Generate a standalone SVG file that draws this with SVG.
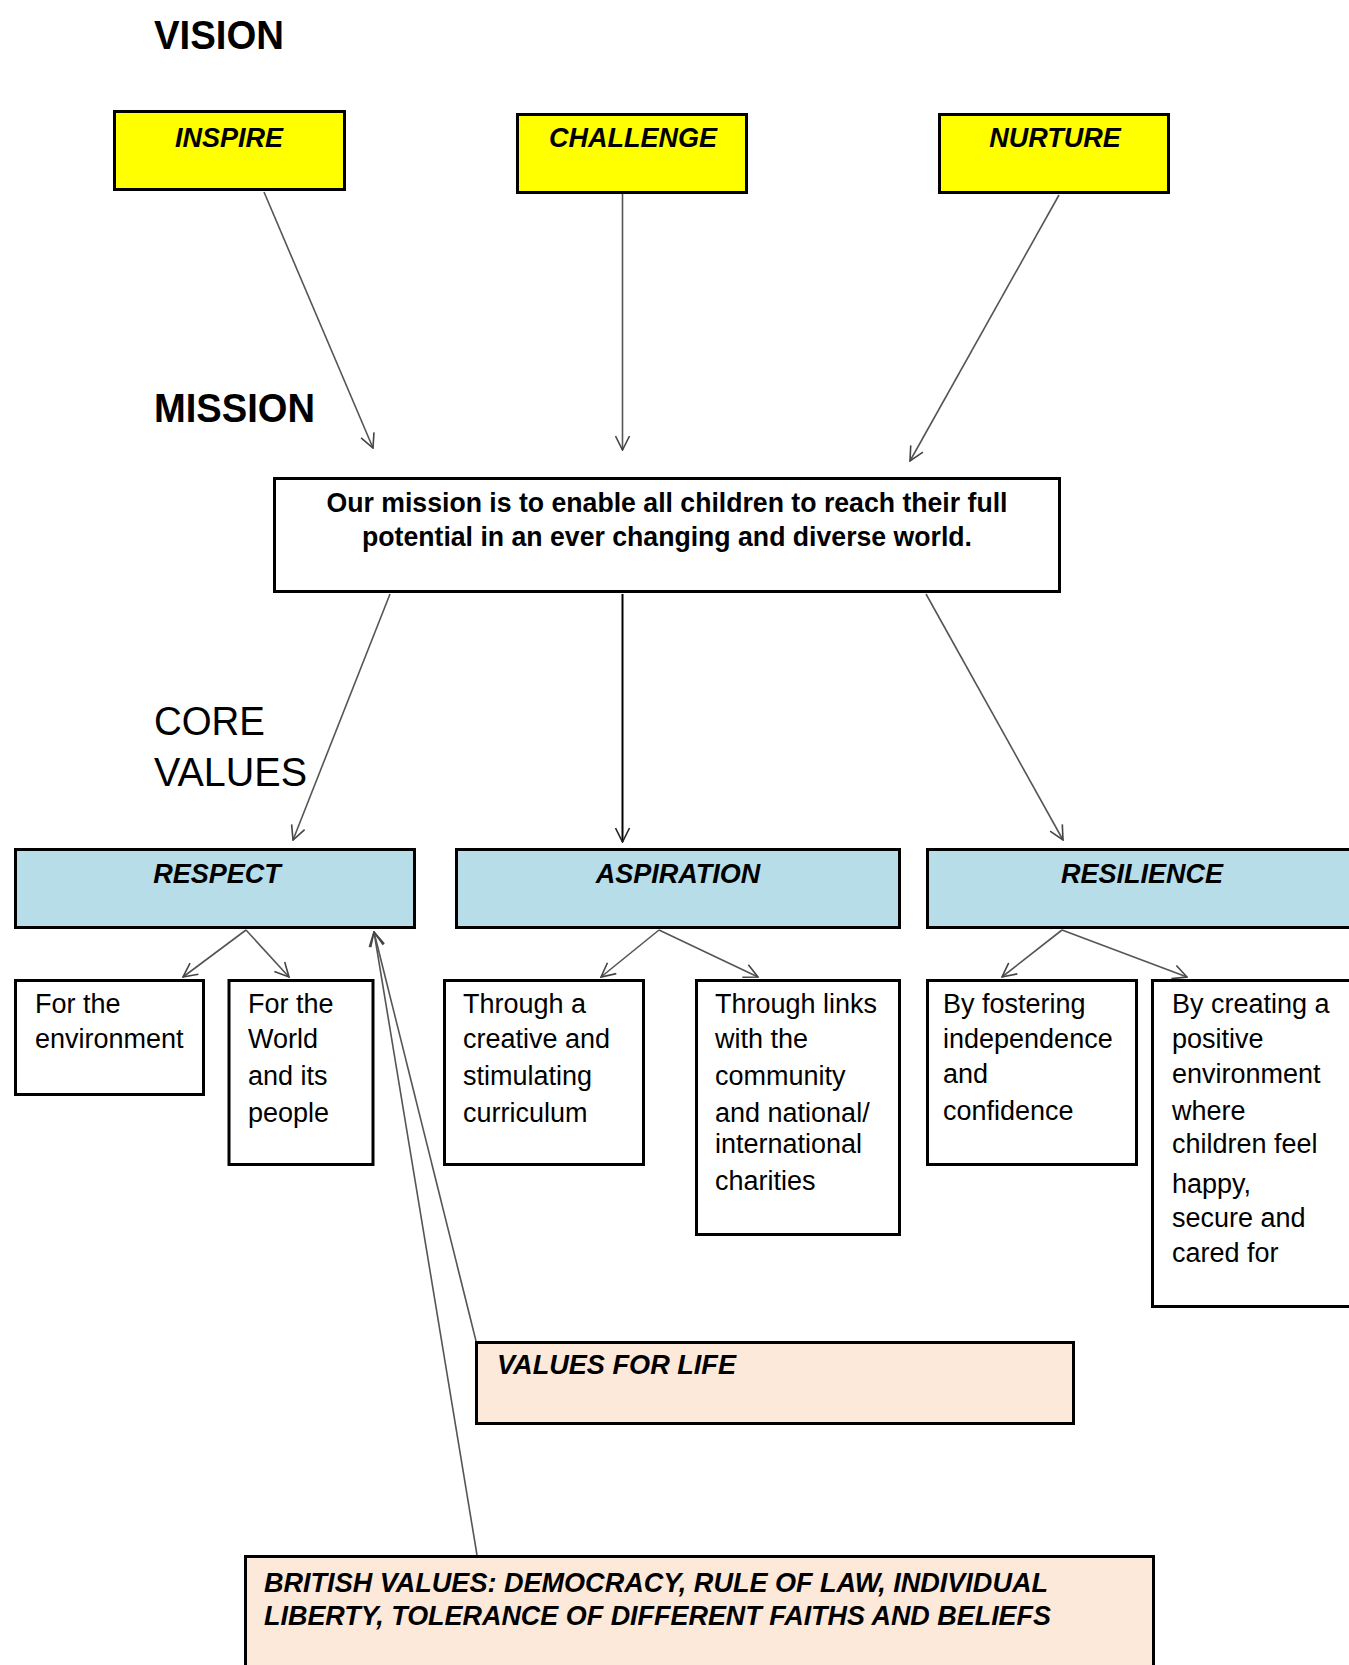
<svg xmlns="http://www.w3.org/2000/svg" width="1349" height="1665" viewBox="0 0 1349 1665">
<defs>
<style>
.box{stroke:#000;stroke-width:3}
.y{fill:#FFFF00}
.b{fill:#B7DDE8}
.p{fill:#FDE9D9}
.w{fill:#fff}
.hd{font-family:"Liberation Sans",Arial,sans-serif;font-size:27px;font-weight:bold;font-style:italic;fill:#000}
.tx{font-family:"Liberation Sans",Arial,sans-serif;font-size:27px;fill:#000}
.ms{font-family:"Liberation Sans",Arial,sans-serif;font-size:27px;font-weight:bold;fill:#000}
.lb{font-family:"Liberation Sans",Arial,sans-serif;font-size:40px;fill:#000}
.c{stroke:#555;stroke-width:1.6;fill:none}
.k{stroke:#000;stroke-width:2;fill:none}
</style>
<marker id="arr" viewBox="0 0 16 16" refX="15" refY="8" markerWidth="16" markerHeight="16" orient="auto" markerUnits="userSpaceOnUse">
<path d="M1,1 L15,8 L1,15" fill="none" stroke="#444" stroke-width="1.6"/>
</marker>
<marker id="arrk" viewBox="0 0 16 16" refX="15" refY="8" markerWidth="16" markerHeight="16" orient="auto" markerUnits="userSpaceOnUse">
<path d="M1,1 L15,8 L1,15" fill="none" stroke="#222" stroke-width="1.6"/>
</marker>
</defs>
<rect width="1349" height="1665" fill="#fff"/>

<g id="labels">
<text class="lb" x="154" y="49" font-weight="bold" textLength="130" lengthAdjust="spacingAndGlyphs">VISION</text>
<text class="lb" x="154" y="422" font-weight="bold" textLength="161" lengthAdjust="spacingAndGlyphs">MISSION</text>
<text class="lb" x="154" y="735" font-size="39" textLength="111" lengthAdjust="spacingAndGlyphs">CORE</text>
<text class="lb" x="154" y="786" font-size="39" textLength="153" lengthAdjust="spacingAndGlyphs">VALUES</text>
</g>

<g id="connectors">
<line class="c" x1="264" y1="192" x2="373" y2="448" marker-end="url(#arr)"/>
<line class="c" x1="622.5" y1="194" x2="622.5" y2="450" marker-end="url(#arr)"/>
<line class="c" x1="1059" y1="195" x2="910" y2="461" marker-end="url(#arr)"/>
<line class="c" x1="390" y1="594" x2="293" y2="840" marker-end="url(#arr)"/>
<line class="k" x1="622.5" y1="594" x2="622.5" y2="842" marker-end="url(#arrk)"/>
<line class="c" x1="926" y1="594" x2="1063" y2="840" marker-end="url(#arr)"/>
<line class="c" x1="246" y1="930" x2="183" y2="977" marker-end="url(#arr)"/>
<line class="c" x1="246" y1="930" x2="289" y2="977" marker-end="url(#arr)"/>
<line class="c" x1="659" y1="930" x2="601" y2="977" marker-end="url(#arr)"/>
<line class="c" x1="659" y1="930" x2="758" y2="977" marker-end="url(#arr)"/>
<line class="c" x1="1062" y1="930" x2="1002" y2="977" marker-end="url(#arr)"/>
<line class="c" x1="1062" y1="930" x2="1187" y2="977" marker-end="url(#arr)"/>
<line class="c" x1="476" y1="1341" x2="374" y2="932" marker-end="url(#arr)"/>
<line class="c" x1="477" y1="1555" x2="374" y2="932" marker-end="url(#arr)"/>
</g>

<g id="inspire">
<rect class="box y" x="114.5" y="111.5" width="230" height="78"/>
<text class="hd" x="229" y="147" text-anchor="middle">INSPIRE</text>
</g>
<g id="challenge">
<rect class="box y" x="517.5" y="114.5" width="229" height="78"/>
<text class="hd" x="633" y="147" text-anchor="middle">CHALLENGE</text>
</g>
<g id="nurture">
<rect class="box y" x="939.5" y="114.5" width="229" height="78"/>
<text class="hd" x="1055" y="147" text-anchor="middle">NURTURE</text>
</g>

<g id="mission">
<rect class="box w" x="274.5" y="478.5" width="785" height="113"/>
<text class="ms" x="667" y="512" text-anchor="middle" textLength="681" lengthAdjust="spacingAndGlyphs">Our mission is to enable all children to reach their full</text>
<text class="ms" x="667" y="546" text-anchor="middle" textLength="610" lengthAdjust="spacingAndGlyphs">potential in an ever changing and diverse world.</text>
</g>

<g id="respect">
<rect class="box b" x="15.5" y="849.5" width="399" height="78"/>
<text class="hd" x="217" y="883" text-anchor="middle">RESPECT</text>
</g>
<g id="aspiration">
<rect class="box b" x="456.5" y="849.5" width="443" height="78"/>
<text class="hd" x="678" y="883" text-anchor="middle">ASPIRATION</text>
</g>
<g id="resilience">
<rect class="box b" x="927.5" y="849.5" width="430" height="78"/>
<text class="hd" x="1142" y="883" text-anchor="middle">RESILIENCE</text>
</g>

<g id="environment">
<rect class="box w" x="15.5" y="980.5" width="188" height="114"/>
<text class="tx" x="35" y="1013">For the</text>
<text class="tx" x="35" y="1048">environment</text>
</g>
<g id="world">
<rect class="box w" x="229" y="980.5" width="144" height="184"/>
<text class="tx" x="248" y="1013">For the</text>
<text class="tx" x="248" y="1048">World</text>
<text class="tx" x="248" y="1085">and its</text>
<text class="tx" x="248" y="1122">people</text>
</g>
<g id="curriculum">
<rect class="box w" x="444.5" y="980.5" width="199" height="184"/>
<text class="tx" x="463" y="1013">Through a</text>
<text class="tx" x="463" y="1048">creative and</text>
<text class="tx" x="463" y="1085">stimulating</text>
<text class="tx" x="463" y="1122">curriculum</text>
</g>
<g id="links">
<rect class="box w" x="696.5" y="980.5" width="203" height="254"/>
<text class="tx" x="715" y="1013">Through links</text>
<text class="tx" x="715" y="1048">with the</text>
<text class="tx" x="715" y="1085">community</text>
<text class="tx" x="715" y="1122">and national/</text>
<text class="tx" x="715" y="1153">international</text>
<text class="tx" x="715" y="1190">charities</text>
</g>
<g id="fostering">
<rect class="box w" x="927.5" y="980.5" width="209" height="184"/>
<text class="tx" x="943" y="1013">By fostering</text>
<text class="tx" x="943" y="1048">independence</text>
<text class="tx" x="943" y="1083">and</text>
<text class="tx" x="943" y="1120">confidence</text>
</g>
<g id="creating">
<rect class="box w" x="1152.5" y="980.5" width="212" height="326"/>
<text class="tx" x="1172" y="1013">By creating a</text>
<text class="tx" x="1172" y="1048">positive</text>
<text class="tx" x="1172" y="1083">environment</text>
<text class="tx" x="1172" y="1120">where</text>
<text class="tx" x="1172" y="1153">children feel</text>
<text class="tx" x="1172" y="1193">happy,</text>
<text class="tx" x="1172" y="1227">secure and</text>
<text class="tx" x="1172" y="1262">cared for</text>
</g>

<g id="valuesforlife">
<rect class="box p" x="476.5" y="1342.5" width="597" height="81"/>
<text class="hd" x="497" y="1374" textLength="239" lengthAdjust="spacingAndGlyphs">VALUES FOR LIFE</text>
</g>
<g id="britishvalues">
<rect class="box p" x="245.5" y="1556.5" width="908" height="150"/>
<text class="hd" x="264" y="1592" textLength="784" lengthAdjust="spacingAndGlyphs">BRITISH VALUES: DEMOCRACY, RULE OF LAW, INDIVIDUAL</text>
<text class="hd" x="264" y="1625" textLength="787" lengthAdjust="spacingAndGlyphs">LIBERTY, TOLERANCE OF DIFFERENT FAITHS AND BELIEFS</text>
</g>
</svg>
